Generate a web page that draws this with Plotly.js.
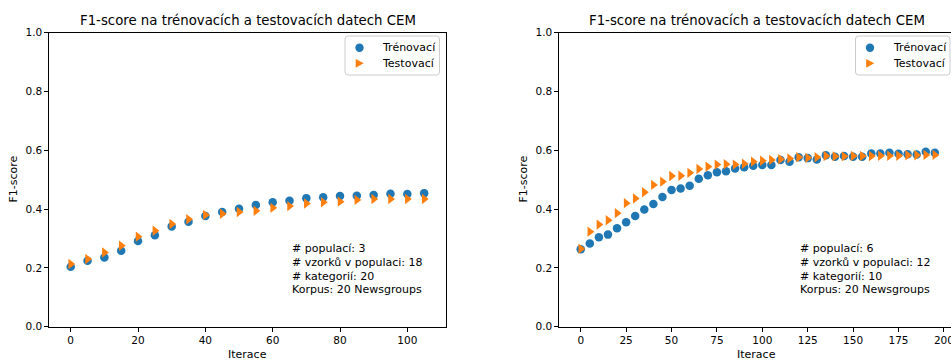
<!DOCTYPE html>
<html><head><meta charset="utf-8">
<script src="https://cdn.plot.ly/plotly-3.0.1.min.js"></script>
<style>body{margin:0;background:#fff}</style>
</head><body><div id="chart" style="width:951px;height:360px"></div>
<script>
// ---- data ----
const iterLeft = [0,5,10,15,20,25,30,35,40,45,50,55,60,65,70,75,80,85,90,95,100,105];
const trainLeft = [0.204,0.224,0.235,0.258,0.291,0.311,0.341,0.357,0.376,0.390,0.401,0.414,0.423,0.428,0.437,0.440,0.444,0.445,0.448,0.452,0.451,0.454];
const testLeft = [0.213,0.230,0.252,0.275,0.306,0.326,0.349,0.365,0.380,0.384,0.390,0.394,0.404,0.410,0.419,0.423,0.425,0.431,0.434,0.434,0.434,0.434];

const iterRight = [0,5,10,15,20,25,30,35,40,45,50,55,60,65,70,75,80,85,90,95,100,105,110,115,120,125,130,135,140,145,150,155,160,165,170,175,180,185,190,195];
const trainRight = [0.263,0.283,0.304,0.313,0.335,0.355,0.376,0.398,0.417,0.441,0.465,0.470,0.479,0.503,0.515,0.525,0.528,0.538,0.542,0.547,0.550,0.550,0.567,0.561,0.576,0.573,0.568,0.583,0.578,0.580,0.578,0.578,0.589,0.589,0.591,0.588,0.586,0.585,0.595,0.591];
const testRight = [0.265,0.323,0.347,0.362,0.386,0.420,0.436,0.457,0.482,0.493,0.512,0.513,0.523,0.536,0.544,0.551,0.552,0.551,0.554,0.561,0.564,0.567,0.569,0.572,0.576,0.574,0.576,0.580,0.579,0.579,0.580,0.580,0.580,0.581,0.581,0.581,0.583,0.583,0.584,0.584];

const seriesNames = ['Trénovací', 'Testovací'];
const chartTitle = 'F1-score na trénovacích a testovacích datech CEM';
const yLabel = 'F1-score';
const xLabel = 'Iterace';
const infoLeft = ['# populací: 3', '# vzorků v populaci: 18', '# kategorií: 20', 'Korpus: 20 Newsgroups'];
const infoRight = ['# populací: 6', '# vzorků v populaci: 12', '# kategorií: 10', 'Korpus: 20 Newsgroups'];
const yTicks = [0, 0.2, 0.4, 0.6, 0.8, 1.0];
const xTicksLeft = [0, 20, 40, 60, 80, 100];
const xTicksRight = [0, 25, 50, 75, 100, 125, 150, 175, 200];

// ---- layout helpers ----
const W = 951, H = 360;
const px = v => v / W;
const py = v => 1 - v / H;
const FONT = 'DejaVu Sans, sans-serif';
const BLUE = '#1f77b4', ORANGE = '#ff7f0e';

function trace(x, y, name, color, symbol, size, xa, ya) {
  return {x, y, name, type: 'scatter', mode: 'markers', xaxis: xa, yaxis: ya, showlegend: false,
    marker: {color, symbol, size, line: {width: 0}}};
}

const data = [
  trace(iterLeft, trainLeft, seriesNames[0], BLUE, 'circle', 8.5, 'x', 'y'),
  trace(iterLeft, testLeft, seriesNames[1], ORANGE, 'triangle-right', 9, 'x', 'y'),
  trace(iterRight, trainRight, seriesNames[0], BLUE, 'circle', 8.5, 'x2', 'y2'),
  trace(iterRight, testRight, seriesNames[1], ORANGE, 'triangle-right', 9, 'x2', 'y2')
];

const yDom = [py(326.7), py(32.5)];
const axisCommon = {showgrid: false, zeroline: false, showline: true, linecolor: '#000', linewidth: 1,
  ticks: 'outside', ticklen: 4, tickwidth: 1, tickcolor: '#000', ticklabeloverflow: 'allow',
  tickfont: {family: FONT, size: 10.5, color: '#000'}, fixedrange: true};

const yAxis = Object.assign({}, axisCommon, {domain: yDom, range: [0, 1], tickvals: yTicks, tickformat: '.1f'});

function textAnn(text, x, y, size, xanchor, angle) {
  return {text, xref: 'paper', yref: 'paper', x: px(x), y: py(y), xanchor: xanchor || 'center', yanchor: 'middle',
    showarrow: false, textangle: angle || 0, font: {family: FONT, size, color: '#000'}};
}

const annotations = [
  textAnn(chartTitle, 247.5, 20.7, 13.3),
  textAnn(chartTitle, 756.7, 20.7, 13.3),
  textAnn(yLabel, 14, 179.6, 11, 'center', -90),
  textAnn(yLabel, 524, 179.6, 11, 'center', -90),
  textAnn(xLabel, 247.5, 354, 11),
  textAnn(xLabel, 756.7, 354, 11)
];
const infoY = [248, 262, 276, 289.5];
infoLeft.forEach((t, i) => annotations.push(textAnn(t, 290, infoY[i], 11, 'left')));
infoRight.forEach((t, i) => annotations.push(textAnn(t, 798.3, infoY[i], 11, 'left')));

// ---- legend boxes (drawn as shapes + text) ----
const shapes = [];
function legendBox(left) {
  const right = left + 94.5, top = 36, bottom = 75, r = 3;
  const X = v => px(v), Y = v => py(v);
  const path = `M ${X(left + r)},${Y(top)} L ${X(right - r)},${Y(top)} Q ${X(right)},${Y(top)} ${X(right)},${Y(top + r)} ` +
    `L ${X(right)},${Y(bottom - r)} Q ${X(right)},${Y(bottom)} ${X(right - r)},${Y(bottom)} ` +
    `L ${X(left + r)},${Y(bottom)} Q ${X(left)},${Y(bottom)} ${X(left)},${Y(bottom - r)} ` +
    `L ${X(left)},${Y(top + r)} Q ${X(left)},${Y(top)} ${X(left + r)},${Y(top)} Z`;
  shapes.push({type: 'path', xref: 'paper', yref: 'paper', path, fillcolor: 'rgba(255,255,255,0.8)',
    line: {color: '#cccccc', width: 1}});
  const mx = left + 14.5, y1 = 47.7, y2 = 63.3, rad = 4.2;
  shapes.push({type: 'circle', xref: 'paper', yref: 'paper', x0: X(mx - rad), x1: X(mx + rad), y0: Y(y1 + rad), y1: Y(y1 - rad),
    fillcolor: BLUE, line: {width: 0}});
  shapes.push({type: 'path', xref: 'paper', yref: 'paper',
    path: `M ${X(mx - 3.8)},${Y(y2 - 4.4)} L ${X(mx + 4.2)},${Y(y2)} L ${X(mx - 3.8)},${Y(y2 + 4.4)} Z`,
    fillcolor: ORANGE, line: {width: 0}});
  annotations.push(textAnn(seriesNames[0], left + 35, y1, 11, 'left'));
  annotations.push(textAnn(seriesNames[1], left + 35, y2, 11, 'left'));
}
legendBox(345);
legendBox(855.5);

const layout = {
  width: W, height: H, margin: {l: 0, r: 0, t: 0, b: 0, pad: 0},
  paper_bgcolor: '#fff', plot_bgcolor: '#fff', showlegend: false,
  xaxis: Object.assign({}, axisCommon, {domain: [px(49.3), px(445.7)], range: [-6.36, 111.4], tickvals: xTicksLeft, mirror: true, anchor: 'y'}),
  yaxis: Object.assign({}, yAxis, {mirror: true, anchor: 'x'}),
  xaxis2: Object.assign({}, axisCommon, {domain: [px(559.3), 1], range: [-11.8, 203.9], tickvals: xTicksRight, mirror: true, anchor: 'y2'}),
  yaxis2: Object.assign({}, yAxis, {mirror: false, anchor: 'x2'}),
  annotations, shapes
};

Plotly.newPlot('chart', data, layout, {displayModeBar: false, staticPlot: true});
</script></body></html>
